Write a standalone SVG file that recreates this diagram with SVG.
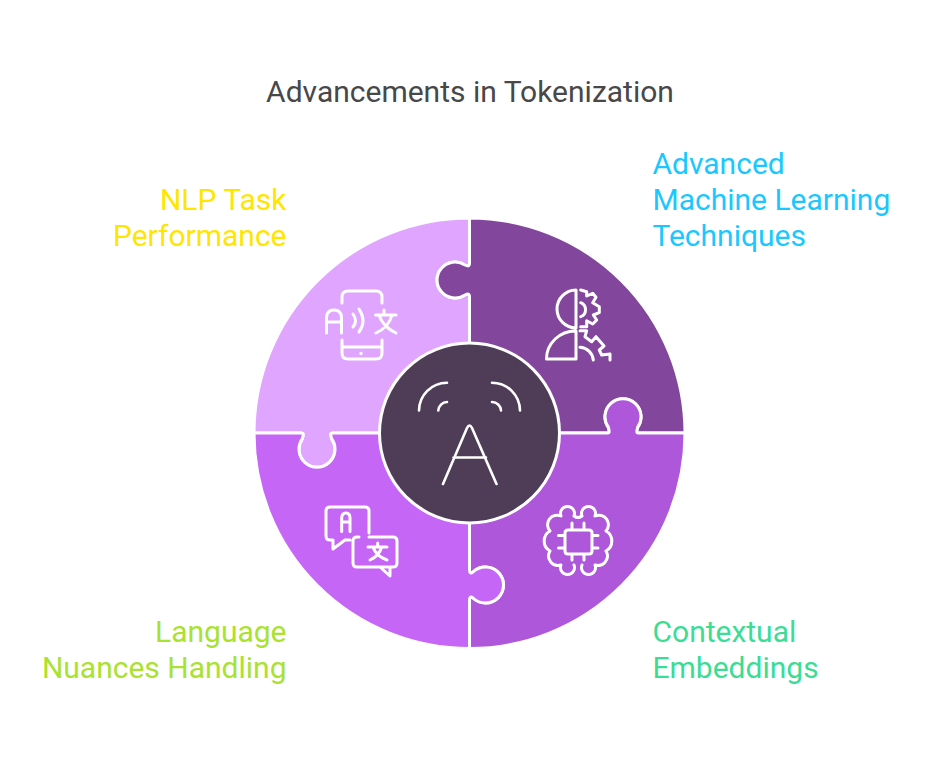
<svg xmlns="http://www.w3.org/2000/svg" width="939" height="759" viewBox="0 0 939 759">
<style>
text{font-family:Roboto,"Liberation Sans",sans-serif;font-size:30px}
.t{fill:#484848;text-anchor:middle}
.p{stroke:#fff;stroke-width:3;stroke-linejoin:round}
.i{fill:none;stroke:#fff;stroke-width:3;stroke-linecap:round;stroke-linejoin:round}
.c{stroke-width:2.6}
.e{text-anchor:end}
</style>
<rect width="939" height="759" fill="#fff"/>
<text class="t" x="470" y="101.500">Advancements in Tokenization</text>
<g id="connectors"></g>
<g id="node-nlp">
<path class="p" fill="#E0A5FF" d="M469.500 218A215.500 215.500 0 0 0 254 433H299.500C303 433 304 432 302.500 438.500A18 18 0 1 0 331.500 438.500C330 432 331 433 334.500 433H469.500V297C469.500 293.500 468 293.500 465 295A18 18 0 1 1 465 265C468 266.500 469.500 266.500 469.500 263Z"/>
<path class="i" d="M342 303V297Q342 291 348 291H376Q382 291 382 297V303M342 340V353Q342 359 348 359H376Q382 359 382 353V340M342 347H382"/>
<circle cx="361" cy="353.500" r="1.700" fill="#fff"/>
<path class="i" d="M326.500 333V318Q326.500 310 334 310Q341.500 310 341.500 318V333M326.500 322H341.500M353 314Q358 321 353 327M359 309Q367 321 359 332M375.500 315H396M384 310V315M392 315Q389 327 376 333M379 315Q383 327 396 333"/>
<text class="e" x="286.500" y="209.500" fill="#FFE500">NLP Task</text>
<text class="e" x="286.500" y="245.500" fill="#FFE500">Performance</text>
</g>
<g id="node-advanced">
<path class="p" fill="#82479C" d="M469.500 218A215.500 215.500 0 0 1 685 433H640.500C637 433 636 434 637.500 427.500A18 18 0 1 0 608.500 427.500C610 434 609 433 605.500 433H469.500V297C469.500 293.500 468 293.500 465 295A18 18 0 1 1 465 265C468 266.500 469.500 266.500 469.500 263Z"/>
<path class="i" d="M576 290V328A19 19 0 0 1 576 290ZM576 331V359H546.500A29 28 0 0 1 576 331ZM580.700 290L586.700 291.700V296L592.700 293.300L596 297.300L592.700 302.700L599.300 306.700V312.700L593.300 315L596.700 320L592.700 324L586.700 320.700V326.700H580.700M580.700 302.700A7.500 7.500 0 0 1 580.700 316.700M580 330.700H586.700L585 336.700L591.700 341.700L596 336.700L604 346L599.300 350L601.700 355L610 354V360M580 347.300A14 14 0 0 1 593.300 360"/>
<text x="652.500" y="173.500" fill="#1AC8FF">Advanced</text>
<text x="652.500" y="209.500" fill="#1AC8FF">Machine Learning</text>
<text x="652.500" y="245.500" fill="#1AC8FF">Techniques</text>
</g>
<g id="node-contextual">
<path class="p" fill="#AE57DA" d="M685 433A215.500 215.500 0 0 1 469.500 648.500V600C469.500 596.500 471 596.500 473 598A18 18 0 1 0 473 572C471 573.500 469.500 573.500 469.500 570V433H605.500C609 433 610 434 608.500 427.500A18 18 0 1 1 637.500 427.500C636 434 637 433 640.500 433Z"/>
<path class="i" d="M565 533Q565 530 568 530H589Q592 530 592 533V551Q592 554 589 554H568Q565 554 565 551ZM572 530V523M584 530V523M572 554V560M584 554V560M565 535.500H558.500M565 548H558.500M592 535.500H598M592 548H598"/>
<path class="i" d="M574 516A7 7 0 1 0 561 516A9.500 9.500 0 0 0 550 531A11.500 11.500 0 0 0 550 551A9.500 9.500 0 0 0 561 565A7 7 0 1 0 574 565M582 516A7 7 0 1 1 595 516A9.500 9.500 0 0 1 606 531A11.500 11.500 0 0 1 606 551A9.500 9.500 0 0 1 595 565A7 7 0 1 1 582 565M574 516Q578 519 582 516"/>
<text x="652.500" y="641.500" fill="#3BDD95">Contextual</text>
<text x="652.500" y="677.500" fill="#3BDD95">Embeddings</text>
</g>
<g id="node-language">
<path class="p" fill="#C566F6" d="M254 433A215.500 215.500 0 0 0 469.500 648.500V600C469.500 596.500 471 596.500 473 598A18 18 0 1 0 473 572C471 573.500 469.500 573.500 469.500 570V433H334.500C331 433 330 432 331.500 438.500A18 18 0 1 1 302.500 438.500C304 432 303 433 299.500 433Z"/>
<path class="i" d="M369 533V511Q369 507 365 507H330Q326 507 326 511V536Q326 540 330 540H333V549L345 540H350M369 537H393Q397 537 397 541V563Q397 567 393 567H380L390 576V567M359 537H357Q353 537 353 541V563Q353 567 357 567H380"/>
<path class="i" d="M341.700 531.500V518Q341.700 513 346 513Q350 513 350 518V531.500M341.700 522H350M368 547H387M377.700 543V547M381.700 547Q379 556 370 560M373 547Q376 556 387 560"/>
<text class="e" x="286.500" y="641.500" fill="#A9E22F">Language</text>
<text class="e" x="286.500" y="677.500" fill="#A9E22F">Nuances Handling</text>
</g>
<g id="node-center">
<circle cx="469.500" cy="433" r="90" fill="#4F3D57" stroke="#fff" stroke-width="3"/>
<path class="i c" d="M443 484L467 428Q469.500 423 472 428L496.500 484M453.500 457.500H486M419 410.500A28 28 0 0 1 447 382.700M438.300 410.500A9 9 0 0 1 447 402M520 410.500A28 28 0 0 0 492 382.700M501 410.500A9 9 0 0 0 492 402"/>
</g>
</svg>
